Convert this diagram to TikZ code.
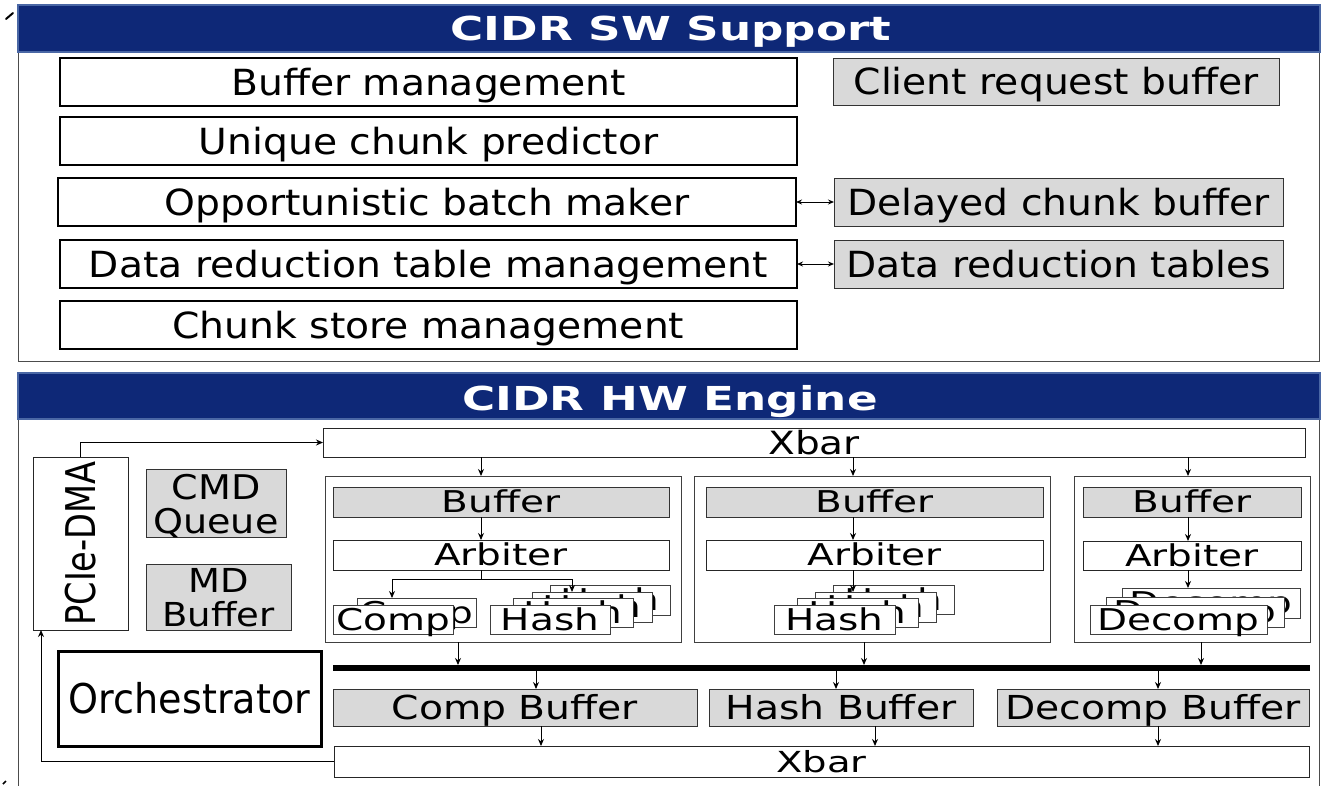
\documentclass[tikz,border=0pt]{standalone}
\usepackage{fontspec}
\setmainfont{DejaVu Sans}
\usepackage{graphicx}
\usetikzlibrary{arrows.meta,calc}
\definecolor{navy}{HTML}{0E2877}
\definecolor{navyedge}{HTML}{4A67A5}
\definecolor{boxgray}{HTML}{D9D9D9}
\newcommand{\ST}[3]{\scalebox{#1}[1]{\fontsize{#2}{#2}\selectfont\smash{#3}\vphantom{X}}}
\newcommand{\MT}[5]{\scalebox{#1}[1]{\fontsize{#2}{#3}\selectfont\begin{tabular}{@{}c@{}}#4\\#5\end{tabular}}}
\newcommand{\swt}[1]{\ST{1.09}{36}{#1}}
\newcommand{\unt}[1]{\ST{1.3}{30}{#1}}
\newcommand{\bbt}[1]{\ST{1.19}{33}{#1}}
\newcommand{\mkbox}[7]{\node[#1, minimum width={(#5)-(#3)}, minimum height={(#6)-(#4)}] (#2) at ({((#3)+(#5))/2},{((#4)+(#6))/2}) {#7};}
\begin{document}
\begin{tikzpicture}[x=1pt,y=-1pt,
  every node/.style={inner sep=0pt, outer sep=0pt},
  swbox/.style={draw=black, line width=1.3pt, fill=white},
  gbox/.style={draw=black!80, line width=1pt, fill=boxgray},
  ubox/.style={draw=black!75, line width=1pt},
  wbox/.style={draw=black!85, line width=1pt, fill=white},
  orchbox/.style={draw=black, line width=3pt, fill=white},
  busbox/.style={fill=black},
  stk/.style={draw=black!75, line width=1pt, fill=white},
  hdr/.style={draw=navyedge, line width=1.5pt, fill=navy},
  panel/.style={draw=black!70, line width=1pt},
  arr/.style={-{Stealth[length=7pt,width=6pt]}, line width=1pt},
  darr/.style={{Stealth[length=6pt,width=5pt]}-{Stealth[length=6pt,width=5pt]}, line width=1pt},
  ttl/.style={text=white, anchor=base}
]
\useasboundingbox (0,0) rectangle (1332,785);
\fill[white] (0,0) rectangle (1332,785);

% ---------- SW panel ----------
\draw[panel] (18,52) rectangle (1319,361);
\mkbox{hdr}{swhdr}{18}{5}{1320}{52}{}
\node[ttl] (swtitle) at (671,40) {\scalebox{1.37}[1]{\fontsize{33}{33}\selectfont\bfseries CIDR SW Support}};

\mkbox{swbox}{bm}{60}{58}{797}{106}{\swt{Buffer management}}
\mkbox{swbox}{ucp}{60}{117}{797}{165}{\swt{Unique chunk predictor}}
\mkbox{swbox}{obm}{58}{178}{796}{226}{\swt{Opportunistic batch maker}}
\mkbox{swbox}{drtm}{60}{240}{797}{288}{\swt{Data reduction table management}}
\mkbox{swbox}{csm}{60}{301}{797}{349}{\swt{Chunk store management}}

\mkbox{gbox}{crb}{833}{58}{1279}{105}{\swt{Client request buffer}}
\mkbox{gbox}{dcb}{834}{178}{1283}{226}{\swt{Delayed chunk buffer}}
\mkbox{gbox}{drt}{834}{240}{1283}{288}{\swt{Data reduction tables}}

\draw[darr] (obm.east) -- (dcb.west);
\draw[darr] (drtm.east) -- (drt.west);

% ---------- HW panel ----------
\draw[panel] (18,790) -- (18,419) -- (1319,419) -- (1319,790);
\mkbox{hdr}{hwhdr}{18}{373}{1320}{419}{}
\node[ttl] (hwtitle) at (670,410) {\scalebox{1.37}[1]{\fontsize{33}{33}\selectfont\bfseries CIDR HW Engine}};

\mkbox{wbox}{xbar1}{323}{428}{1305}{457}{\ST{1.22}{32}{Xbar}}
\mkbox{wbox}{pcie}{33}{457}{128}{630}{\rotatebox{90}{\ST{0.82}{41}{PCIe-DMA}}}
\mkbox{gbox}{cmd}{146}{469}{286}{537}{}
\node (cmdtext) at ([yshift=-5pt]cmd.center) {\MT{1.12}{34}{30}{CMD}{Queue}};
\mkbox{gbox}{md}{146}{564}{291}{630}{}
\node (mdtext) at ([yshift=-5pt]md.center) {\MT{1.12}{33}{30}{MD}{Buffer}};
\mkbox{orchbox}{orch}{58}{651}{321}{746}{\ST{0.93}{41}{Orchestrator}}

% units
\mkbox{ubox}{unit1}{325}{476}{681}{642}{}
\mkbox{ubox}{unit2}{694}{476}{1050}{642}{}
\mkbox{ubox}{unit3}{1074}{476}{1310}{642}{}

\mkbox{gbox}{buf1}{333}{487}{669}{517}{\unt{Buffer}}
\mkbox{wbox}{arb1}{333}{540}{669}{570}{\unt{Arbiter}}
\mkbox{gbox}{buf2}{706}{487}{1043}{517}{\unt{Buffer}}
\mkbox{wbox}{arb2}{706}{540}{1043}{570}{\unt{Arbiter}}
\mkbox{gbox}{buf3}{1083}{487}{1301}{517}{\unt{Buffer}}
\mkbox{wbox}{arb3}{1083}{541}{1301}{570}{\unt{Arbiter}}

% stacks unit 1
\mkbox{stk}{comp1b}{357}{598}{476}{627}{\unt{Comp}}
\mkbox{stk}{comp1}{333}{605}{453}{634}{\unt{Comp}}
\mkbox{stk}{hash1d}{550}{585}{670}{615}{\unt{Hash}}
\mkbox{stk}{hash1c}{532}{592}{652}{622}{\unt{Hash}}
\mkbox{stk}{hash1b}{513}{598}{633}{627}{\unt{Hash}}
\mkbox{stk}{hash1}{490}{605}{610}{634}{\unt{Hash}}
% stacks unit 2
\mkbox{stk}{hash2d}{833}{585}{954}{614}{\unt{Hash}}
\mkbox{stk}{hash2c}{815}{592}{936}{622}{\unt{Hash}}
\mkbox{stk}{hash2b}{797}{598}{918}{627}{\unt{Hash}}
\mkbox{stk}{hash2}{774}{605}{895}{634}{\unt{Hash}}
% stacks unit 3
\mkbox{stk}{dec3c}{1122}{588}{1300}{618}{\unt{Decomp}}
\mkbox{stk}{dec3b}{1106}{597}{1284}{627}{\unt{Decomp}}
\mkbox{stk}{dec3}{1090}{605}{1267}{634}{\unt{Decomp}}

% bus
\mkbox{busbox}{bus}{333}{665}{1310}{671}{}

% bottom buffers and xbar
\mkbox{gbox}{cbuf}{333}{689}{697}{726}{\bbt{Comp Buffer}}
\mkbox{gbox}{hbuf}{709}{689}{973}{726}{\bbt{Hash Buffer}}
\mkbox{gbox}{dbuf}{997}{689}{1309}{726}{\bbt{Decomp Buffer}}
\mkbox{wbox}{xbar2}{334}{746}{1309}{777}{\ST{1.33}{29}{Xbar}}

% x positions of vertical connectors
\coordinate (xa) at (481,0);
\coordinate (xb) at (853,0);
\coordinate (xc) at (1188,0);
\coordinate (xl) at (392,0);
\coordinate (xr) at (572,0);
\coordinate (ya) at (0,579);
\coordinate (ua) at (458,0);
\coordinate (ub) at (864,0);
\coordinate (uc) at (1201,0);
\coordinate (ba) at (536,0);
\coordinate (bb) at (836,0);
\coordinate (bc) at (1158,0);
\coordinate (da) at (541,0);
\coordinate (db) at (875,0);
\coordinate (dc) at (1158,0);
\coordinate (xret) at (41,0);

% connectors
\draw[arr] (pcie.north) |- (xbar1.west);
\draw[arr] (xbar2.west) -| (pcie.south -| xret);

\draw[arr] (xbar1.south -| xa) -- (unit1.north -| xa);
\draw[arr] (xbar1.south -| xb) -- (unit2.north -| xb);
\draw[arr] (xbar1.south -| xc) -- (unit3.north -| xc);

\draw[arr] (buf1.south -| xa) -- (arb1.north -| xa);
\draw[arr] (buf2.south -| xb) -- (arb2.north -| xb);
\draw[arr] (buf3.south -| xc) -- (arb3.north -| xc);

\draw[line width=1pt] (arb1.south -| xa) -- (ya -| xa);
\draw[arr] (ya -| xa) -| (comp1b.north -| xl);
\draw[arr] (ya -| xa) -| (hash1c.north -| xr);
\draw[arr] (arb2.south -| xb) -- (hash2c.north -| xb);
\draw[arr] (arb3.south -| xc) -- (dec3c.north -| xc);

\draw[arr] (unit1.south -| ua) -- (bus.north -| ua);
\draw[arr] (unit2.south -| ub) -- (bus.north -| ub);
\draw[arr] (unit3.south -| uc) -- (bus.north -| uc);

\draw[arr] (bus.south -| ba) -- (cbuf.north -| ba);
\draw[arr] (bus.south -| bb) -- (hbuf.north -| bb);
\draw[arr] (bus.south -| bc) -- (dbuf.north -| bc);

\draw[arr] (cbuf.south -| da) -- (xbar2.north -| da);
\draw[arr] (hbuf.south -| db) -- (xbar2.north -| db);
\draw[arr] (dbuf.south -| dc) -- (xbar2.north -| dc);

% stray marks at the corners
\draw[line width=2pt, line cap=round] (6,19) -- (13,13);
\draw[line width=1.5pt] (3,784) -- (6,781);
\end{tikzpicture}
\end{document}
